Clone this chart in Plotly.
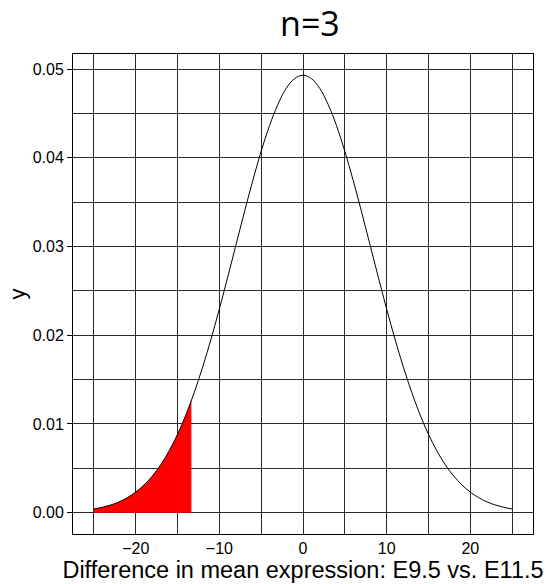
import plotly.graph_objects as go

# density curve values
x_vals = list(range(-25, 26))
y_right = [0.04931, 0.04893, 0.04783, 0.04603, 0.04364, 0.04074, 0.03745, 0.03391,
           0.03024, 0.02656, 0.02297, 0.01956, 0.01641, 0.01356, 0.01103, 0.00884,
           0.00698, 0.00542, 0.00415, 0.00313, 0.00232, 0.00170, 0.00122, 0.00087,
           0.00061, 0.00042]
y_vals = y_right[:0:-1] + y_right  # symmetric curve, values for x=-25..25

# shaded tail region
shade_x = [-25, -24, -23, -22, -21, -20, -19, -18, -17, -16, -15, -14, -13.4]
shade_y = [0.00042, 0.00061, 0.00087, 0.00122, 0.00170, 0.00232, 0.00313, 0.00415,
           0.00542, 0.00698, 0.00884, 0.01103, 0.01260]

x_ticks = [-20, -10, 0, 10, 20]
y_ticks = [0.00, 0.01, 0.02, 0.03, 0.04, 0.05]

fig = go.Figure()
fig.add_trace(go.Scatter(x=shade_x, y=shade_y, mode="lines", line=dict(color="red", width=0, shape="spline"),
                         fill="tozeroy", fillcolor="red", hoverinfo="skip", showlegend=False))
fig.add_trace(go.Scatter(x=shade_x[-1:] * 2, y=[0, shade_y[-1]], mode="lines",
                         line=dict(color="red", width=1), showlegend=False))
fig.add_trace(go.Scatter(x=x_vals, y=y_vals, mode="lines",
                         line=dict(color="black", width=1, shape="spline"), showlegend=False))

grid = "#2a2a2a"
fig.update_layout(
    width=546, height=584,
    margin=dict(l=73, r=13, t=54, b=50),
    paper_bgcolor="white", plot_bgcolor="white",
    font=dict(family="Liberation Sans, Arial, sans-serif", color="black", size=16),
    title=dict(text="n=3", x=0.515, xref="paper", y=0.959, yanchor="middle",
               font=dict(family="Open Sans, Noto Sans, sans-serif", size=34, color="black")),
    xaxis=dict(range=[-27.5, 27.5], tickvals=x_ticks, ticks="", showgrid=True,
               gridcolor=grid, gridwidth=1, automargin=False,
               minor=dict(tickvals=[-25, -15, -5, 5, 15, 25], showgrid=True, gridcolor=grid, gridwidth=1),
               showline=True, linecolor="black", linewidth=1, mirror=True, zeroline=False,
               tickfont=dict(size=16),
               title=dict(text="Difference in mean expression: E9.5 vs. E11.5", font=dict(size=23.5), standoff=0)),
    yaxis=dict(range=[-0.0024, 0.0517], tickvals=y_ticks, tickformat=".2f", ticks="outside",
               ticklen=5, tickcolor="black", showgrid=True, gridcolor=grid, gridwidth=1, automargin=False,
               minor=dict(tickvals=[0.005, 0.015, 0.025, 0.035, 0.045], showgrid=True, gridcolor=grid, gridwidth=1),
               showline=True, linecolor="black", linewidth=1, mirror=True, zeroline=False,
               tickfont=dict(size=16),
               title=dict(text="y", font=dict(size=22), standoff=0)),
)
fig.write_html("out.html")
